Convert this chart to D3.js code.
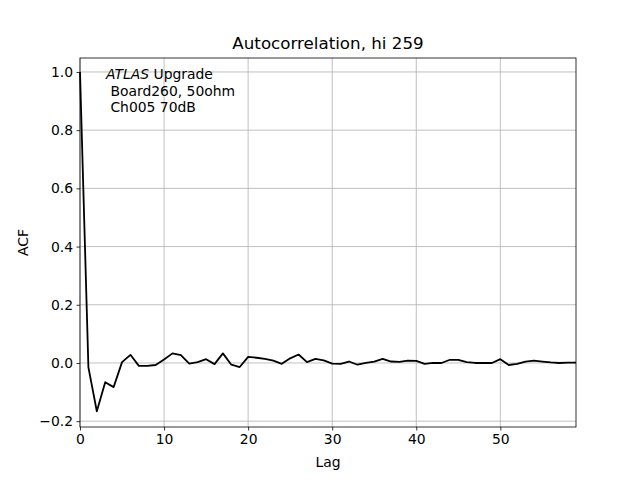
<!DOCTYPE html>
<html>
<head>
<meta charset="utf-8">
<script src="https://cdn.jsdelivr.net/npm/d3@7"></script>
<style>
  body { margin: 0; background: #fff; }
  text { font-family: "DejaVu Sans", sans-serif; }
</style>
</head>
<body>
<svg id="chart" width="640" height="480"></svg>
<script>
// ACF values per lag
var lags = d3.range(0, 60);
var acf = [1.0, -0.015, -0.166, -0.066, -0.083, 0.003, 0.028, -0.01, -0.01, -0.007,
    0.012, 0.033, 0.027, -0.002, 0.003, 0.013, -0.004, 0.033, -0.006, -0.014,
    0.021, 0.018, 0.014, 0.008, -0.003, 0.016, 0.029, 0.003, 0.014, 0.009,
    -0.002, -0.003, 0.005, -0.006, 0.0, 0.005, 0.014, 0.005, 0.004, 0.008,
    0.007, -0.003, 0.0, 0.0, 0.011, 0.011, 0.003, 0.0, 0.0, 0.0,
    0.013, -0.007, -0.003, 0.005, 0.008, 0.005, 0.002, 0.0, 0.001, 0.001];
var xTicks = [0, 10, 20, 30, 40, 50];
var yTicks = [-0.2, 0, 0.2, 0.4, 0.6, 0.8, 1.0];
var title = "Autocorrelation, hi 259";
var noteLines = [" Board260, 50ohm", " Ch005 70dB"];

var pLeft = 80, pRight = 576, pTop = 58, pBottom = 427;
var svg = d3.select("#chart");

var x = d3.scaleLinear().domain([0, 59]).range([pLeft, pRight]);
var y = d3.scaleLinear().domain([-0.22, 1.048]).range([pBottom, pTop]);

// Grid
svg.append("g").selectAll("line").data(xTicks).enter().append("line")
    .attr("x1", d => x(d)).attr("x2", d => x(d))
    .attr("y1", pTop).attr("y2", pBottom)
    .attr("stroke", "#b0b0b0").attr("stroke-width", 0.8);
svg.append("g").selectAll("line").data(yTicks).enter().append("line")
    .attr("x1", pLeft).attr("x2", pRight)
    .attr("y1", d => y(d)).attr("y2", d => y(d))
    .attr("stroke", "#b0b0b0").attr("stroke-width", 0.8);

// Axes
var xAxis = d3.axisBottom(x).tickValues(xTicks).tickSize(3.5).tickPadding(3.5).tickFormat(d3.format("d"));
var yAxis = d3.axisLeft(y).tickValues(yTicks).tickSize(3.5).tickPadding(3.5).tickFormat(d3.format(".1f"));
var gx = svg.append("g").attr("transform", "translate(0," + pBottom + ")").call(xAxis);
var gy = svg.append("g").attr("transform", "translate(" + pLeft + ",0)").call(yAxis);
[gx, gy].forEach(function (g) {
    g.select(".domain").remove();
    g.selectAll("line").attr("stroke", "black").attr("stroke-width", 0.8);
    g.selectAll("text").attr("font-size", "13.9px").attr("fill", "black")
        .style("font-family", "DejaVu Sans, sans-serif");
});

// Line
var line = d3.line()
    .x(function (d, i) { return x(lags[i]); })
    .y(function (d) { return y(d); });
svg.append("path")
    .attr("d", line(acf))
    .attr("fill", "none")
    .attr("stroke", "black")
    .attr("stroke-width", 1.8)
    .attr("stroke-linejoin", "round");

// Frame
svg.append("rect")
    .attr("x", pLeft).attr("y", pTop)
    .attr("width", pRight - pLeft).attr("height", pBottom - pTop)
    .attr("fill", "none").attr("stroke", "black").attr("stroke-width", 0.8);

// Text
svg.append("text").attr("x", (pLeft + pRight) / 2).attr("y", 49)
    .attr("text-anchor", "middle").attr("font-size", "16.7px").text(title);
svg.append("text").attr("x", (pLeft + pRight) / 2).attr("y", 467)
    .attr("text-anchor", "middle").attr("font-size", "13.9px").text("Lag");
svg.append("text").attr("transform", "translate(28," + ((pTop + pBottom) / 2) + ") rotate(-90)")
    .attr("text-anchor", "middle").attr("font-size", "13.9px").text("ACF");

var note = svg.append("text").attr("x", 106).attr("y", 79).attr("font-size", "13.9px");
note.append("tspan").attr("font-style", "italic").text("ATLAS");
note.append("tspan").text(" Upgrade");
noteLines.forEach(function (t, i) {
    svg.append("text").attr("x", 106).attr("y", 79 + 16.5 * (i + 1))
        .attr("font-size", "13.9px").attr("xml:space", "preserve")
        .style("white-space", "pre").text(t);
});
</script>
</body>
</html>
